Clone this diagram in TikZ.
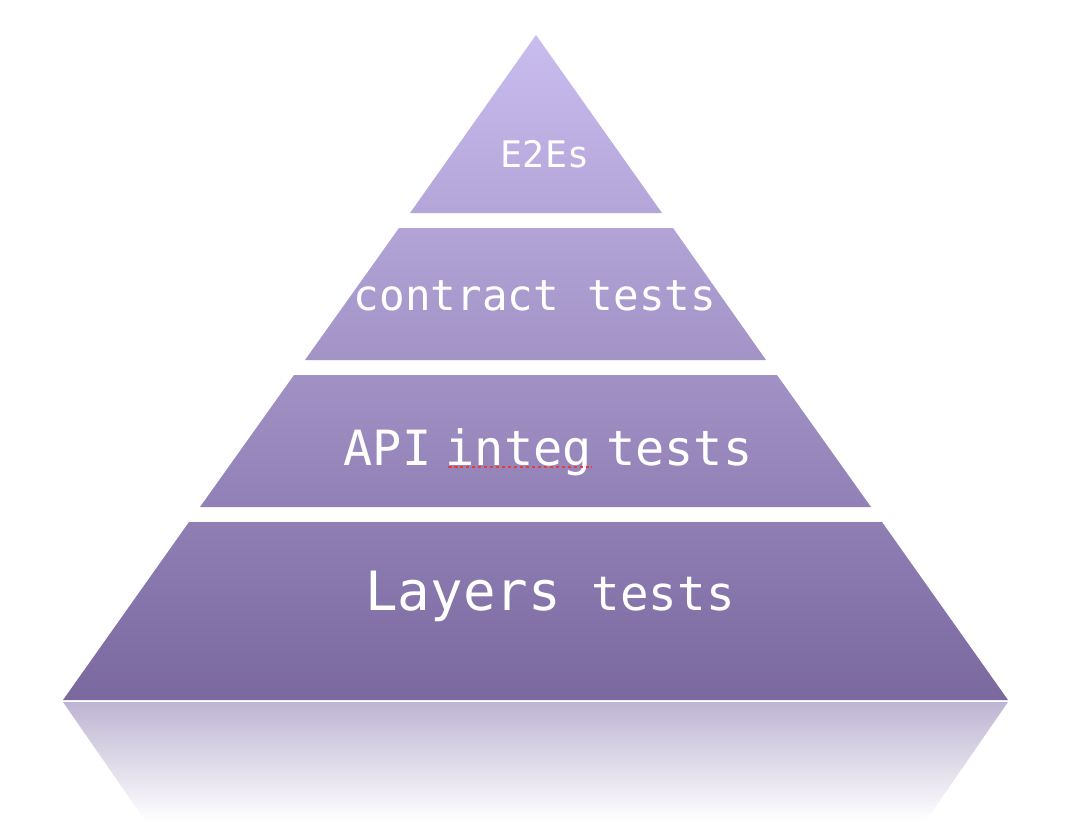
\documentclass[tikz,border=0pt]{standalone}
\usepackage{fontspec}
\setmonofont{DejaVu Sans Mono}
\usepackage{tikz}

\definecolor{pyrtop}{RGB}{201,188,238}
\definecolor{pyrbot}{RGB}{122,104,158}
\definecolor{refltop}{RGB}{190,181,210}
\definecolor{spellred}{RGB}{230,60,60}

\tikzset{
  lbl/.style={text=white,font=\ttfamily,inner sep=0pt},
}

\begin{document}
\begin{tikzpicture}[x=0.01cm,y=-0.01cm]
      \useasboundingbox (0,0) rectangle (1088,826);
      % bands of the pyramid, one shading for all of them
      \begin{scope}
        \clip (536,35) -- (662,213) -- (410,213) -- cycle
              (399,228) -- (673,228) -- (766,360) -- (305,360) -- cycle
              (294,375) -- (777,375) -- (871,507) -- (200,507) -- cycle
              (189,522) -- (882,522) -- (1008,700) -- (63,700) -- cycle;
        \shade[top color=pyrtop,bottom color=pyrbot] (60,35) rectangle (1010,700);
      \end{scope}
      % reflection
      \shade[top color=refltop,bottom color=white]
        (63,702) -- (1008,702) -- (925,822) -- (146,822) -- cycle;
      \node[lbl] (e2e) at (545,154) {\fontsize{10.4}{12}\selectfont E2Es};
      \node[lbl] (contract) at (535,296)
        {\fontsize{12.1}{14}\selectfont contract\hspace{1pt} tests};
      \node[lbl,anchor=base] (api) at (548,465)
        {\fontsize{13.8}{16}\selectfont API\hspace{-4.2pt} integ\hspace{-4.2pt} tests};
      \node[lbl,anchor=base] (layers) at (550,610)
        {\fontsize{15.4}{18}\selectfont Layers\hspace{-0.5pt} \fontsize{13.5}{16}\selectfont tests};
      \draw[spellred,dash pattern=on 1pt off 0.7pt,line width=0.7pt] (448,467) -- (592,467);
    \end{tikzpicture}
\end{document}
